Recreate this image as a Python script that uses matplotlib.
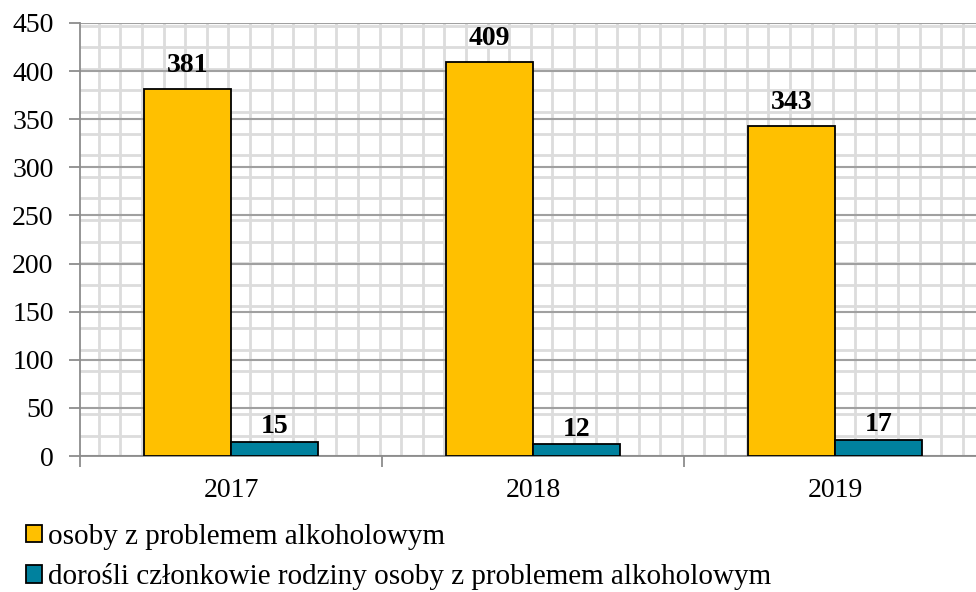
import numpy as np
import matplotlib
matplotlib.use("Agg")
import matplotlib.pyplot as plt
from matplotlib.patches import Patch

years = ["2017", "2018", "2019"]
alcohol = [381, 409, 343]
family = [15, 12, 17]
labels = ["osoby z problemem alkoholowym",
          "dorośli członkowie rodziny osoby z problemem alkoholowym"]
colors = ["#FFC000", "#00819E"]

plt.rcParams["font.family"] = ["Liberation Serif", "DejaVu Serif"]

W, H = 976, 592
fig = plt.figure(figsize=(W / 100, H / 100), dpi=100)
# plot area runs a little past the right edge of the picture
ax_left, ax_right, ax_bottom, ax_top = 80, 986, 456, 23
ax = fig.add_axes([ax_left / W, 1 - ax_bottom / H,
                   (ax_right - ax_left) / W, (ax_bottom - ax_top) / H])

x = np.arange(len(years))
w = 0.288
ax.bar(x - w / 2, alcohol, w, color=colors[0], edgecolor="black", linewidth=1.3, zorder=3)
ax.bar(x + w / 2, family, w, color=colors[1], edgecolor="black", linewidth=1.3, zorder=3)

for xi, v in zip(x - w / 2, alcohol):
    ax.annotate(str(v), (xi, v), xytext=(0, 8), textcoords="offset points",
                ha="center", va="bottom", fontsize=20, fontweight="bold")
for xi, v in zip(x + w / 2, family):
    ax.annotate(str(v), (xi, v), xytext=(0, 2), textcoords="offset points",
                ha="center", va="bottom", fontsize=20, fontweight="bold")

ax.set_xlim(-0.5, 2.5)
ax.set_ylim(0, 450)

# background pattern of light squares (pixel spaced)
step = 21.6
ax_w = ax_right - ax_left
ax_h = ax_bottom - ax_top
for px in np.arange(77.2 + step, ax_right, step):
    ax.plot([(px - ax_left) / ax_w] * 2, [0, 1], transform=ax.transAxes,
            color="#DCDCDC", lw=2, zorder=0)
for py in np.arange(436, ax_top, -step):
    ax.plot([0, 1], [(ax_bottom - py) / ax_h] * 2, transform=ax.transAxes,
            color="#DCDCDC", lw=2, zorder=0)

ax.set_yticks(np.arange(0, 451, 50))
ax.yaxis.grid(True, color="#A0A0A0", lw=1.5, zorder=1)
ax.set_axisbelow(True)

ax.set_xticks(x)
ax.set_xticklabels(years)
ax.set_xticks(np.arange(-0.5, 3, 1), minor=True)
ax.tick_params(axis="x", which="major", length=0, pad=16, labelsize=20)
ax.tick_params(axis="x", which="minor", length=8, width=1.3, color="#8C8C8C")
ax.tick_params(axis="y", length=8, width=1.3, color="#8C8C8C", labelsize=20, pad=11)

for s in ["top", "right"]:
    ax.spines[s].set_visible(False)
for s in ["left", "bottom"]:
    ax.spines[s].set_color("#8C8C8C")
    ax.spines[s].set_linewidth(1.3)

handles = [Patch(facecolor=c, edgecolor="black", linewidth=1.3) for c in colors]
fig.legend(handles, labels, loc="upper left", bbox_to_anchor=(26 / W, 1 - 524 / H),
           frameon=False, fontsize=21, handlelength=0.55, handleheight=0.55,
           handletextpad=0.2, labelspacing=0.45, borderaxespad=0, borderpad=0)

fig.savefig("out.png", dpi=100)
